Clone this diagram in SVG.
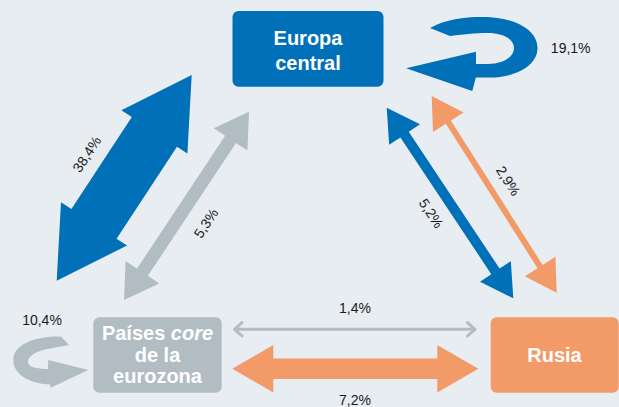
<svg xmlns="http://www.w3.org/2000/svg" width="619" height="407" viewBox="0 0 619 407">
<defs>
<style>
.box-text{font-family:"Liberation Sans",Arial,sans-serif;font-weight:bold;font-size:20px;fill:#ffffff;text-anchor:middle}
.lbl{font-family:"Liberation Sans",Arial,sans-serif;font-size:14px;fill:#1a1a1a;text-anchor:middle}
.blue{fill:#0070B8}
.grey{fill:#B1BCC3}
.orange{fill:#F39A69}
</style>
</defs>
<rect x="0" y="0" width="619" height="407" fill="#E8EDF2"/>

<g id="connectors">
  <!-- Europa central <-> Paises core 38,4% -->
  <polygon class="blue" points="191.7,75 187.41,153.52 176.96,146.66 116.58,238.66 127.03,245.52 56.7,280.7 60.99,202.18 71.44,209.04 131.82,117.04 121.37,110.18"/>
  <!-- Paises core <-> Europa central 5,3% -->
  <polygon class="grey" points="249,111.7 247.41,150.62 236,143.05 147.84,275.85 159.25,283.42 124,300 125.59,261.08 137,268.65 225.16,135.85 213.75,128.28"/>
  <!-- Europa central <-> Rusia 5,2% -->
  <polygon class="blue" points="513.3,298.3 510.84,261.15 499.6,268.62 408.74,131.84 419.98,124.37 386.7,107.7 389.16,144.85 400.4,137.38 491.26,274.16 480.02,281.63"/>
  <!-- Europa central <-> Rusia 2,9% -->
  <polygon class="orange" points="556.7,292.7 555.43,256.78 542.6,264.93 450.86,120.55 463.69,112.4 431.7,96 432.97,131.92 445.8,123.77 537.54,268.15 524.71,276.3"/>
  <!-- Paises core <-> Rusia 1,4% -->
  <g fill="none" stroke="#B1BCC3" stroke-width="3" stroke-linecap="round" stroke-linejoin="round">
    <line x1="235" y1="329.3" x2="474.5" y2="329.3"/>
    <polyline points="242,322.6 234.5,329.3 242,336"/>
    <polyline points="467.5,322.6 475,329.3 467.5,336"/>
  </g>
  <!-- Paises core <-> Rusia 7,2% -->
  <polygon class="orange" points="232.3,368.7 273.3,345 273.3,358.4 437.3,358.4 437.3,345 478.3,368.7 437.3,392.4 437.3,379 273.3,379 273.3,392.4"/>
  <!-- self loop Europa central 19,1% -->
  <path class="blue" d="M430,28 C448,18 468,16.5 487,17 C515,18 537.5,30 537.5,48 C537.5,66 515,77.5 490,77.5 L475.8,77.5 L472.3,91 L406,68.3 L476,51.8 L476,64 L488,64 C503,64 514,57 514,48 C514,38.5 502,33 488,33 C475,33 461,34.5 450,36 Z"/>
  <!-- self loop Paises core 10,4% -->
  <path class="grey" d="M61,336.5 L69,345 C62,346.5 54,347.5 45,349.5 C35,352 28,356.5 28,362 C28,367 37,369 48,369 L48.3,360 L88.3,370 L50.7,387.7 L50,384.3 C33,384.3 13.3,376 13.3,360 C13.3,344 36,336 61,336.5 Z"/>
</g>

<g id="labels">
  <text class="lbl" transform="translate(91,157) rotate(-56.7)">38,4%</text>
  <text class="lbl" transform="translate(210,226) rotate(-56.4)">5,3%</text>
  <text class="lbl" transform="translate(427,216) rotate(56.4)">5,2%</text>
  <text class="lbl" transform="translate(504,183.5) rotate(57.4)">2,9%</text>
  <text class="lbl" x="570.7" y="53.3">19,1%</text>
  <text class="lbl" x="42" y="325">10,4%</text>
  <text class="lbl" x="355" y="313.3">1,4%</text>
  <text class="lbl" x="355" y="404.5">7,2%</text>
</g>

<g id="node-europa-central">
  <rect class="blue" x="232.5" y="11" width="151" height="75.7" rx="6"/>
  <text class="box-text" x="308" y="44.5">Europa</text>
  <text class="box-text" x="308" y="69.5">central</text>
</g>

<g id="node-paises-core">
  <rect class="grey" x="93.3" y="317.3" width="128.4" height="75.4" rx="6"/>
  <text class="box-text" x="157.5" y="340">Países <tspan font-style="italic">core</tspan></text>
  <text class="box-text" x="157.5" y="361.8">de la</text>
  <text class="box-text" x="157.5" y="383">eurozona</text>
</g>

<g id="node-rusia">
  <rect class="orange" x="490.7" y="317.3" width="128" height="75.4" rx="6"/>
  <text class="box-text" x="554.5" y="362" font-size="19.5">Rusia</text>
</g>
</svg>
